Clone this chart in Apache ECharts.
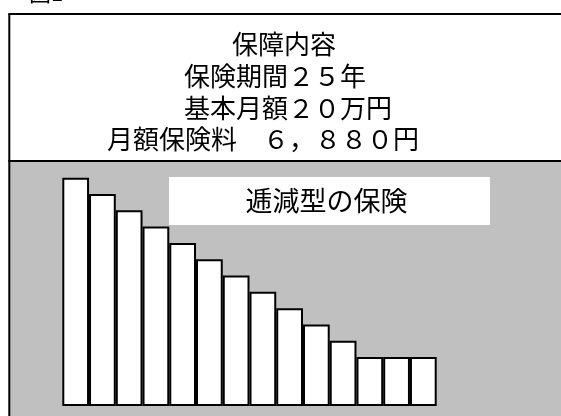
<!DOCTYPE html>
<html>
<head>
<meta charset="utf-8">
<script src="https://cdn.jsdelivr.net/npm/echarts@6/dist/echarts.min.js"></script>
<style>
  html, body { margin: 0; padding: 0; background: #fff; }
  #main { width: 561px; height: 416px; }
</style>
</head>
<body>
<div id="main"></div>
<script>
// 逓減型の保険: 年ごとの保障額（目盛り単位）
var categories = ['1','2','3','4','5','6','7','8','9','10','11','12','13','14'];
var benefit = [14, 13, 12, 11, 10, 9, 8, 7, 6, 5, 4, 3, 3, 3];
var infoLines = ['保障内容', '保険期間２５年', '基本月額２０万円', '月額保険料　６，８８０円'];
var figTitle = '図1';
var boxLabel = '逓減型の保険';

var font = '"Noto Sans CJK JP", sans-serif';
var myChart = echarts.init(document.getElementById('main'), null, { renderer: 'canvas' });

// each text line: left x, middle y
var lineX = [232, 184, 184, 107];
var lineY = [44, 76, 108, 139];

var graphics = [
    // grey panel
    { type: 'rect', z: -10, shape: { x: 10, y: 161, width: 560, height: 260 }, style: { fill: '#c0c0c0' } },
    // frame lines
    { type: 'line', z: 10, shape: { x1: 9.3, y1: 14, x2: 9.3, y2: 420 }, style: { stroke: '#000', lineWidth: 2 } },
    { type: 'line', z: 10, shape: { x1: 8.3, y1: 14, x2: 565, y2: 14 }, style: { stroke: '#000', lineWidth: 2.2 } },
    { type: 'line', z: 10, shape: { x1: 8.3, y1: 161, x2: 565, y2: 161 }, style: { stroke: '#000', lineWidth: 2.2 } },
    // 図1 (mostly cut off at the top)
    { type: 'text', left: 29, top: -18, style: { text: figTitle, font: '22px ' + font, fill: '#000' } },
    // label box
    { type: 'rect', z: 5, shape: { x: 169, y: 177, width: 321, height: 48 }, style: { fill: '#fff' } },
    { type: 'text', z: 6, style: { text: boxLabel, x: 326.5, y: 201, align: 'center', verticalAlign: 'middle', font: '27px ' + font, fill: '#000' } }
];
infoLines.forEach(function(t, i) {
    graphics.push({ type: 'text', z: 6, style: { text: t, x: lineX[i], y: lineY[i], align: 'left', verticalAlign: 'middle', font: '26px ' + font, fill: '#000' } });
});

var option = {
    backgroundColor: '#fff',
    animation: false,
    grid: { left: 62.3, right: 124.3, top: 177.7, bottom: 10 },
    xAxis: {
        type: 'category',
        data: categories,
        show: false
    },
    yAxis: {
        type: 'value',
        min: 0,
        max: 14,
        show: false
    },
    graphic: graphics,
    series: [{
        type: 'bar',
        data: benefit,
        barCategoryGap: '0%',
        itemStyle: { color: '#fff', borderColor: '#000', borderWidth: 2 }
    }]
};
myChart.setOption(option);
</script>
</body>
</html>
